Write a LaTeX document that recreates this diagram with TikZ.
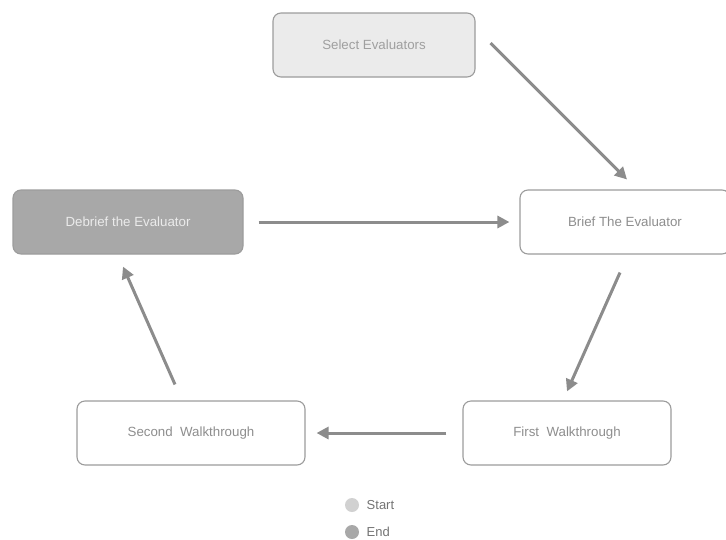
\documentclass[tikz,border=0pt]{standalone}
\usepackage{fontspec}
\setmainfont{Liberation Sans}
\usetikzlibrary{arrows.meta,positioning}

\definecolor{boxline}{HTML}{9C9C9C}
\definecolor{boxtext}{HTML}{8E8E8E}
\definecolor{startgray}{HTML}{EBEBEB}
\definecolor{endgray}{HTML}{A8A8A8}
\definecolor{arrowgray}{HTML}{8C8C8C}

\begin{document}
\begin{tikzpicture}[
      x=1pt, y=-1pt,%
      step box/.style={draw=boxline, line width=1.1pt, rounded corners=8pt,
        fill=white, text=boxtext, minimum height=64pt,
        font=\fontsize{13.3}{15}\selectfont},%
      flow/.style={draw=arrowgray, line width=3pt,
        -{Triangle[length=12pt,width=12pt]}},%
      dot/.style={circle, minimum size=14pt, inner sep=0pt}%
    ]
    \useasboundingbox (0,0) rectangle (726,539);

    %% Steps
    \node[step box, fill=startgray, text=boxtext!85, minimum width=202pt]
      (select) at (374,45) {Select Evaluators};
    \node[step box, minimum width=210pt] (brief) at (625,222) {Brief The Evaluator};
    \node[step box, minimum width=208pt] (first) at (567,433) {First\ \ Walkthrough};
    \node[step box, minimum width=228pt] (second) at (191,433) {Second\ \ Walkthrough};
    \node[step box, fill=endgray, text=white!92!black, minimum width=230pt]
      (debrief) at (128,222) {Debrief the Evaluator};

    %% Flow
    \draw[flow] ([xshift=15pt,yshift=2pt]select.east) -- ([xshift=2pt,yshift=10pt]brief.north);
    \draw[flow] ([xshift=15pt]debrief.east) -- ([xshift=-10pt]brief.west);
    \draw[flow] ([xshift=-5pt,yshift=-18pt]brief.south) -- ([yshift=9pt]first.north);
    \draw[flow] ([xshift=-16pt]first.west) -- ([xshift=11pt]second.east);
    \draw[flow] ([xshift=-16pt,yshift=16pt]second.north) -- ([xshift=-5pt,yshift=-12pt]debrief.south);

    %% Legend
    \node[dot, fill=black!18] (startdot) at (352,505) {};
    \node[dot, fill=endgray] (enddot) at (352,532) {};
    \node[right=4pt of startdot, text=black!55, font=\fontsize{13}{15}\selectfont] (startlbl) {Start};
    \node[right=4pt of enddot, text=black!55, font=\fontsize{13}{15}\selectfont] (endlbl) {End};
  \end{tikzpicture}
\end{document}
